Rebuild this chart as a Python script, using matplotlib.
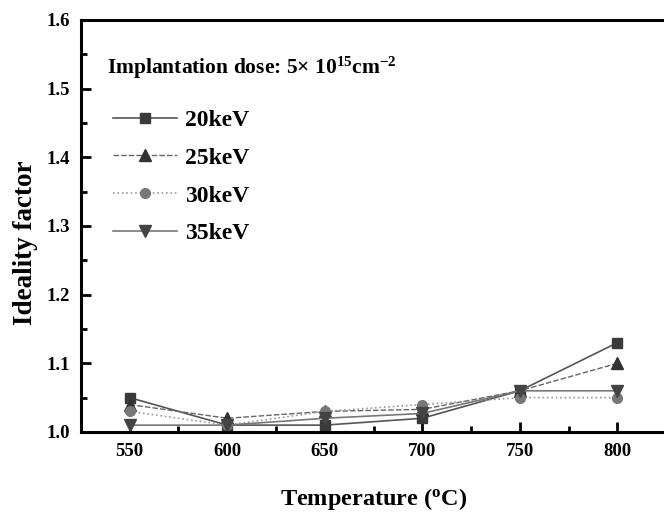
import matplotlib.pyplot as plt
from matplotlib.ticker import MultipleLocator

# Données
temperature = [550, 600, 650, 700, 750, 800]
ideal_20kev = [1.05, 1.01, 1.01, 1.02, 1.06, 1.13]
ideal_25kev = [1.04, 1.02, 1.03, 1.033, 1.06, 1.10]
ideal_30kev = [1.03, 1.01, 1.03, 1.04, 1.05, 1.05]
ideal_35kev = [1.01, 1.01, 1.02, 1.027, 1.06, 1.06]

plt.rcParams['font.family'] = ['Liberation Serif', 'DejaVu Serif']
plt.rcParams['font.weight'] = 'bold'
plt.rcParams['mathtext.fontset'] = 'custom'
plt.rcParams['mathtext.rm'] = 'Liberation Serif:bold'
plt.rcParams['mathtext.it'] = 'Liberation Serif:bold'
plt.rcParams['mathtext.bf'] = 'Liberation Serif:bold'

fig = plt.figure(figsize=(6.64, 5.14), dpi=100)
ax = fig.add_axes([81 / 664, 1 - 432 / 514, 585 / 664, 412 / 514])

ax.plot(temperature, ideal_20kev, '-', color='#555555', lw=1.2,
        marker='s', ms=7, mfc='#3a3a3a', mec='#3a3a3a', label='20keV')
ax.plot(temperature, ideal_25kev, '--', color='#666666', lw=1.0, dashes=(4, 1.5),
        marker='^', ms=8, mfc='#333333', mec='#333333', label='25keV')
ax.plot(temperature, ideal_30kev, ':', color='#999999', lw=1.2,
        marker='o', ms=7, mfc='#777777', mec='#777777', label='30keV')
ax.plot(temperature, ideal_35kev, '-', color='#777777', lw=1.2,
        marker='v', ms=8, mfc='#444444', mec='#444444', label='35keV')

ax.set_xlim(525, 825)
ax.set_ylim(1.0, 1.6)
ax.set_xticks(temperature)
ax.xaxis.set_minor_locator(MultipleLocator(25))
ax.yaxis.set_major_locator(MultipleLocator(0.1))
ax.yaxis.set_minor_locator(MultipleLocator(0.05))
ax.yaxis.set_major_formatter(plt.FormatStrFormatter('%.1f'))
ax.tick_params(which='both', direction='in', width=2, labelsize=13.5, top=False, right=False)
ax.tick_params(which='major', length=7, pad=8)
ax.tick_params(which='minor', length=4)
for s in ax.spines.values():
    s.set_linewidth(2.2)

ax.set_xlabel(r'Temperature ($^{\mathregular{o}}$C)', fontsize=17.5, fontweight='bold')
ax.xaxis.set_label_coords(0.5, -0.132)
ax.set_ylabel('Ideality factor', fontsize=19.5, fontweight='bold')
ax.yaxis.set_label_coords(-0.073, 0.459)

ax.text(0.045, 0.883, r'Implantation dose: 5$\times$ 10$^{15}$cm$^{-2}$',
        transform=ax.transAxes, fontsize=15.5, fontweight='bold', va='center')

ax.legend(loc='upper left', bbox_to_anchor=(0.0386, 0.806), frameon=False, fontsize=17,
          handlelength=2.7, handletextpad=0.34, labelspacing=0.69, borderaxespad=0)

fig.savefig('out.png', dpi=100)
